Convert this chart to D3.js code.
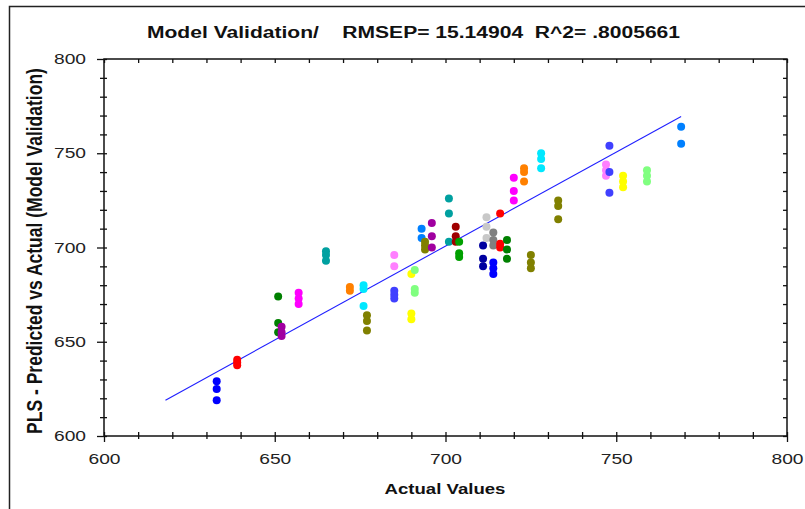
<!DOCTYPE html>
<html lang="en">
<head>
<meta charset="utf-8">
<title>Model Validation</title>
<script src="https://cdn.jsdelivr.net/npm/d3@7"></script>
<style>
body { margin: 0; background: #fff; }
text { font-family: "Liberation Sans", Arial, sans-serif; white-space: pre; }
</style>
</head>
<body>
<script>
// actual value of each sample group (x) and its predicted replicates (y)
var actual = [633, 639, 651, 652, 657, 665, 672, 676, 677, 685, 685, 690, 691, 693, 694, 696, 701, 703,
              704, 711, 712, 714, 714, 716, 718, 720, 723, 725, 728, 733, 747, 748, 752, 759, 769];
var predicted = [
  [629, 625, 619], [640.5, 639, 637.5], [674, 660, 655], [658, 655, 653], [676, 673, 670],
  [698, 696, 693], [679, 677], [680, 678, 669], [664, 661, 656], [696, 690],
  [677, 675, 673], [686, 665, 662], [688, 678, 676], [710, 705], [703, 701, 699],
  [713, 706, 700], [726, 718, 703], [711, 706, 703], [703, 697, 695], [701, 694, 690],
  [716, 711, 705], [708, 704, 701], [692, 689, 686], [718, 702, 700], [704, 699, 694],
  [737, 730, 725], [742, 740, 735], [696, 692, 689], [750, 747, 742], [725, 722, 715],
  [744, 741, 738], [754, 740, 729], [738, 735, 732], [741, 738, 735], [764, 755]
];
var groupColor = ["#0000ff", "#ff0000", "#008000", "#a000a0", "#ff00ff",
                  "#00a0a0", "#ff8000", "#00e8ff", "#808000", "#ff80ff",
                  "#4040ff", "#ffff00", "#80ff80", "#0080ff", "#808000",
                  "#a000a0", "#00a0a0", "#a00000", "#00a000", "#0000a0",
                  "#c8c8c8", "#808080", "#0000ff", "#ff0000", "#008000",
                  "#ff00ff", "#ff8000", "#808000", "#00e8ff", "#808000",
                  "#ff80ff", "#4040ff", "#ffff00", "#80ff80", "#0080ff"];
var fitX = [618, 769];
var fitY = [619, 769.5];
var tickValues = d3.range(600, 801, 10);

var w = 805, h = 509;
var sx = 1.24; // the picture is stretched sideways

var svg = d3.select("body").append("svg")
  .attr("width", w).attr("height", h);

// outer frame (only left and top visible)
svg.append("rect")
  .attr("x", 9.5).attr("y", 6.5)
  .attr("width", 900).attr("height", 600)
  .attr("fill", "none").attr("stroke", "#222").attr("stroke-width", 1.5);

var x = d3.scaleLinear().domain([600, 800]).range([104, 787]);
var y = d3.scaleLinear().domain([600, 800]).range([436, 59]);

function isMajor(d) { return d % 50 === 0; }

// bottom
var gx = svg.append("g").attr("transform", "translate(0,436)")
  .call(d3.axisBottom(x).tickValues(tickValues).tickSize(6)
    .tickFormat(function(d) { return isMajor(d) ? d : ""; }));
gx.selectAll("line").attr("y1", -4).attr("y2", function(d) { return isMajor(d) ? 6 : 3; });
gx.selectAll("text").attr("y", 28).attr("dy", 0)
  .attr("transform", "scale(" + sx + ",1)");

// left
var gy = svg.append("g").attr("transform", "translate(104,0)")
  .call(d3.axisLeft(y).tickValues(tickValues).tickSize(6)
    .tickFormat(function(d) { return isMajor(d) ? d : ""; }));
gy.selectAll("line").attr("x1", 3).attr("x2", function(d) { return isMajor(d) ? -7 : -4; });
gy.selectAll("text").attr("x", -18 / sx).attr("dy", "0.3em")
  .attr("transform", "scale(" + sx + ",1)");

// top and right (inner ticks only)
var gt = svg.append("g").attr("transform", "translate(0,59)")
  .call(d3.axisTop(x).tickValues(tickValues).tickFormat(""));
gt.selectAll("line").attr("y1", 0).attr("y2", 4);
var gr = svg.append("g").attr("transform", "translate(787,0)")
  .call(d3.axisRight(y).tickValues(tickValues).tickFormat(""));
gr.selectAll("line").attr("x1", 0).attr("x2", -4);

[gx, gy, gt, gr].forEach(function(g) {
  g.select(".domain").remove();
  g.selectAll("line").attr("stroke", "#111").attr("stroke-width", 1.3);
  g.selectAll("text").attr("font-family", "Liberation Sans, Arial, sans-serif")
    .attr("font-size", 15.5).attr("fill", "#222");
});

svg.append("rect")
  .attr("x", x(600)).attr("y", y(800))
  .attr("width", x(800) - x(600)).attr("height", y(600) - y(800))
  .attr("fill", "none").attr("stroke", "#111").attr("stroke-width", 1.5);

// fitted line
svg.append("line")
  .attr("x1", x(fitX[0])).attr("y1", y(fitY[0]))
  .attr("x2", x(fitX[1])).attr("y2", y(fitY[1]))
  .attr("stroke", "#2020ff").attr("stroke-width", 1.1);

// points
var pts = [];
actual.forEach(function(a, i) {
  predicted[i].forEach(function(p) { pts.push({ a: a, p: p, c: groupColor[i] }); });
});
svg.selectAll("circle.pt").data(pts).enter().append("circle")
  .attr("class", "pt")
  .attr("cx", function(d) { return x(d.a); })
  .attr("cy", function(d) { return y(d.p); })
  .attr("r", 4)
  .attr("fill", function(d) { return d.c; });

// titles
function label(tx, ty, str, size, rot) {
  svg.append("text")
    .attr("transform", "translate(" + tx + "," + ty + ") scale(" + sx + ",1)" + (rot ? " rotate(" + rot + ")" : ""))
    .attr("text-anchor", "middle")
    .attr("font-weight", "bold")
    .attr("font-size", size)
    .attr("fill", "#111")
    .text(str);
}
label(413.5, 38, "Model Validation/    RMSEP= 15.14904  R^2= .8005661", 17);
label(445, 494, "Actual Values", 15);
label(42, 251, "PLS - Predicted vs Actual (Model Validation)", 17.5, -90);
</script>
</body>
</html>
